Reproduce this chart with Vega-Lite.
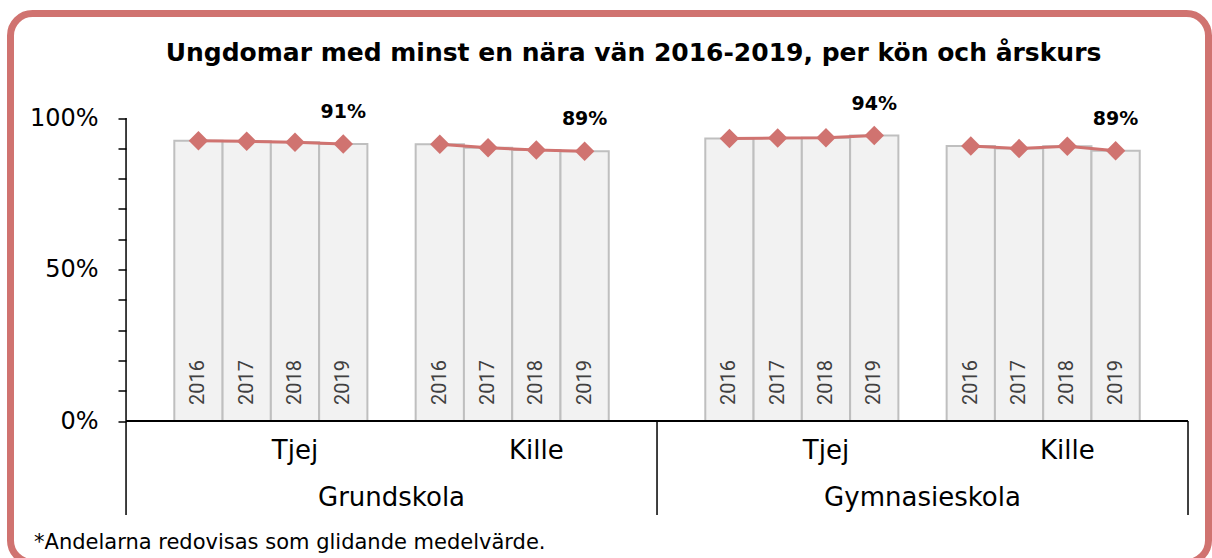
{
  "$schema": "https://vega.github.io/schema/vega-lite/v6.json",
  "width": 1212,
  "height": 558,
  "autosize": {"type": "fit", "contains": "padding"},
  "padding": {"left": 10.5, "top": 13.5, "right": 3.5, "bottom": -4.5},
  "background": "white",
  "config": {
    "view": {"stroke": "#D07370", "strokeWidth": 7, "cornerRadius": 22},
    "font": "DejaVu Sans"
  },
  "title": {
    "text": "Ungdomar med minst en nära vän 2016-2019, per kön och årskurs",
    "font": "DejaVu Sans",
    "fontSize": 25,
    "fontWeight": "bold",
    "color": "#000000",
    "anchor": "middle",
    "offset": -52.5,
    "dx": 24
  },
  "data": {
    "values": [
      {"stapel": "Grundskola Tjej 2016", "skola": "Grundskola", "kon": "Tjej", "ar": "2016", "andel": 0.925},
      {"stapel": "Grundskola Tjej 2017", "skola": "Grundskola", "kon": "Tjej", "ar": "2017", "andel": 0.923},
      {"stapel": "Grundskola Tjej 2018", "skola": "Grundskola", "kon": "Tjej", "ar": "2018", "andel": 0.920},
      {"stapel": "Grundskola Tjej 2019", "skola": "Grundskola", "kon": "Tjej", "ar": "2019", "andel": 0.914},
      {"stapel": "Grundskola Kille 2016", "skola": "Grundskola", "kon": "Kille", "ar": "2016", "andel": 0.913},
      {"stapel": "Grundskola Kille 2017", "skola": "Grundskola", "kon": "Kille", "ar": "2017", "andel": 0.902},
      {"stapel": "Grundskola Kille 2018", "skola": "Grundskola", "kon": "Kille", "ar": "2018", "andel": 0.894},
      {"stapel": "Grundskola Kille 2019", "skola": "Grundskola", "kon": "Kille", "ar": "2019", "andel": 0.890},
      {"stapel": "Gymnasieskola Tjej 2016", "skola": "Gymnasieskola", "kon": "Tjej", "ar": "2016", "andel": 0.932},
      {"stapel": "Gymnasieskola Tjej 2017", "skola": "Gymnasieskola", "kon": "Tjej", "ar": "2017", "andel": 0.934},
      {"stapel": "Gymnasieskola Tjej 2018", "skola": "Gymnasieskola", "kon": "Tjej", "ar": "2018", "andel": 0.935},
      {"stapel": "Gymnasieskola Tjej 2019", "skola": "Gymnasieskola", "kon": "Tjej", "ar": "2019", "andel": 0.942},
      {"stapel": "Gymnasieskola Kille 2016", "skola": "Gymnasieskola", "kon": "Kille", "ar": "2016", "andel": 0.908},
      {"stapel": "Gymnasieskola Kille 2017", "skola": "Gymnasieskola", "kon": "Kille", "ar": "2017", "andel": 0.899},
      {"stapel": "Gymnasieskola Kille 2018", "skola": "Gymnasieskola", "kon": "Kille", "ar": "2018", "andel": 0.907},
      {"stapel": "Gymnasieskola Kille 2019", "skola": "Gymnasieskola", "kon": "Kille", "ar": "2019", "andel": 0.892}
    ]
  },
  "encoding": {
    "x": {
      "field": "stapel",
      "type": "nominal",
      "axis": null,
      "scale": {
        "domain": ["sL1", "sL2", "s0", "Grundskola Tjej 2016", "Grundskola Tjej 2017", "Grundskola Tjej 2018", "Grundskola Tjej 2019", "s5",
                   "Grundskola Kille 2016", "Grundskola Kille 2017", "Grundskola Kille 2018", "Grundskola Kille 2019", "s10", "s11",
                   "Gymnasieskola Tjej 2016", "Gymnasieskola Tjej 2017", "Gymnasieskola Tjej 2018", "Gymnasieskola Tjej 2019", "s16",
                   "Gymnasieskola Kille 2016", "Gymnasieskola Kille 2017", "Gymnasieskola Kille 2018", "Gymnasieskola Kille 2019", "s21"],
        "paddingInner": 0,
        "paddingOuter": 0.409,
        "align": 0.481
      }
    }
  },
  "layer": [
    {
      "mark": {"type": "bar", "fill": "#F2F2F2", "stroke": "#BFBFBF", "strokeWidth": 2},
      "encoding": {
        "y": {
          "field": "andel",
          "type": "quantitative",
          "scale": {"domain": [-0.467, 1.3449], "nice": false, "zero": false},
          "axis": {
            "values": [0, 0.1, 0.2, 0.3, 0.4, 0.5, 0.6, 0.7, 0.8, 0.9, 1],
            "labelExpr": "datum.value == 0 || datum.value == 0.5 || datum.value == 1 ? format(datum.value, '.0%') : ''",
            "domain": false,
            "grid": false,
            "ticks": true,
            "tickColor": "#000000",
            "tickSize": 8,
            "tickWidth": 1.5,
            "labelFont": "DejaVu Sans",
            "labelFontSize": 24,
            "labelColor": "#000000",
            "labelPadding": 20,
            "offset": -115.5,
            "title": null
          }
        }
      }
    },
    {
      "mark": {"type": "text", "angle": 270, "align": "left", "baseline": "middle", "dx": 16, "fontSize": 20, "font": "Roboto", "color": "#404040"},
      "encoding": {
        "y": {"datum": 0},
        "text": {"field": "ar", "type": "nominal"}
      }
    },
    {
      "mark": {"type": "line", "color": "#D07370", "strokeWidth": 3},
      "encoding": {
        "y": {"field": "andel", "type": "quantitative"},
        "detail": [{"field": "skola"}, {"field": "kon"}]
      }
    },
    {
      "mark": {"type": "point", "shape": "diamond", "filled": true, "size": 380, "color": "#D07370", "opacity": 1},
      "encoding": {
        "y": {"field": "andel", "type": "quantitative"}
      }
    },
    {
      "transform": [{"filter": "datum.ar == '2019'"}],
      "mark": {"type": "text", "fontSize": 19, "fontWeight": "bold", "dy": -32, "baseline": "middle", "color": "#000000", "font": "DejaVu Sans"},
      "encoding": {
        "y": {"field": "andel", "type": "quantitative"},
        "text": {"field": "andel", "type": "quantitative", "format": ".0%"}
      }
    },
    {
      "transform": [{"filter": "datum.ar == '2018'"}],
      "mark": {"type": "text", "fontSize": 26, "baseline": "middle", "dy": 30, "color": "#000000", "font": "DejaVu Sans"},
      "encoding": {
        "y": {"datum": 0},
        "text": {"field": "kon", "type": "nominal"}
      }
    },
    {
      "transform": [{"filter": "datum.ar == '2016' && datum.kon == 'Kille'"}],
      "mark": {"type": "text", "fontSize": 26, "baseline": "middle", "dy": 77, "color": "#000000", "font": "DejaVu Sans"},
      "encoding": {
        "x": {"field": "stapel", "type": "nominal", "bandPosition": -0.5},
        "y": {"datum": 0},
        "text": {"field": "skola", "type": "nominal"}
      }
    },
    {
      "data": {"values": [{}]},
      "mark": {"type": "rule", "color": "#000000", "strokeWidth": 1.5},
      "encoding": {
        "x": {"datum": "s0", "bandPosition": 0},
        "y": {"datum": 1},
        "y2": {"datum": -0.31}
      }
    },
    {
      "data": {"values": [{}]},
      "mark": {"type": "rule", "color": "#000000", "strokeWidth": 1.5},
      "encoding": {
        "x": {"datum": "s11", "bandPosition": 0},
        "y": {"datum": 0},
        "y2": {"datum": -0.31}
      }
    },
    {
      "data": {"values": [{}]},
      "mark": {"type": "rule", "color": "#000000", "strokeWidth": 1.5},
      "encoding": {
        "x": {"datum": "s21", "bandPosition": 1},
        "y": {"datum": 0},
        "y2": {"datum": -0.31}
      }
    },
    {
      "data": {"values": [{}]},
      "mark": {"type": "rule", "color": "#000000", "strokeWidth": 2},
      "encoding": {
        "x": {"datum": "s0", "bandPosition": 0},
        "x2": {"datum": "s21", "bandPosition": 1},
        "y": {"datum": 0}
      }
    },
    {
      "data": {"values": [{}]},
      "mark": {"type": "text", "align": "left", "baseline": "middle", "fontSize": 21, "dx": -92, "dy": 122, "color": "#000000", "font": "DejaVu Sans"},
      "encoding": {
        "x": {"datum": "s0", "bandPosition": 0},
        "y": {"datum": 0},
        "text": {"value": "*Andelarna redovisas som glidande medelvärde."}
      }
    }
  ]
}
